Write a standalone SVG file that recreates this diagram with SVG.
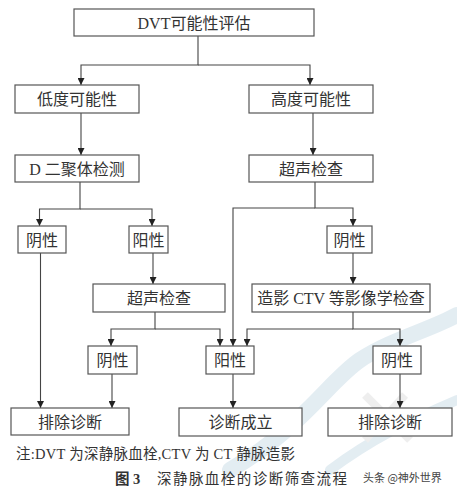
<svg xmlns="http://www.w3.org/2000/svg" width="457" height="493" viewBox="0 0 457 493">
<style>
.bx{fill:#fff;stroke:#555;stroke-width:1.2}
.t{font-family:"Liberation Serif","Noto Sans CJK SC",serif;font-size:16px;fill:#333;text-anchor:middle;dominant-baseline:central}
.c{fill:none;stroke:#444;stroke-width:1.1}
.note{font-family:"Liberation Serif","Noto Sans CJK SC",serif;font-size:14.5px;fill:#333}
.wm{fill:none;stroke:#dde9f0;stroke-linecap:round}
</style>
<defs>
<marker id="ar" viewBox="0 0 10 10" refX="10" refY="5" markerWidth="7" markerHeight="7" markerUnits="userSpaceOnUse" orient="auto">
<path d="M0,0 L10,5 L0,10 z" fill="#222"/>
</marker>
</defs>
<rect width="457" height="493" fill="#fff"/>
<g id="watermark" opacity="0.8">
<path class="wm" stroke-width="16" d="M230,470 C300,430 330,380 360,360 S430,330 457,315"/>
<path class="wm" stroke-width="10" d="M330,470 C370,440 410,420 457,400"/>
<path fill="none" stroke="#ebebeb" stroke-width="8" d="M365,395 L410,440 M405,395 L365,440"/>
</g>
<g id="connectors">
<path class="c" d="M198,36 V65 H81 V85" marker-end="url(#ar)"/>
<path class="c" d="M198,65 H310 V85" marker-end="url(#ar)"/>
<path class="c" d="M81,113 V155" marker-end="url(#ar)"/>
<path class="c" d="M313,113 V155" marker-end="url(#ar)"/>
<path class="c" d="M80,182 V209 H39.5 V226" marker-end="url(#ar)"/>
<path class="c" d="M80,209 H152 V226" marker-end="url(#ar)"/>
<path class="c" d="M40.5,253 V408" marker-end="url(#ar)"/>
<path class="c" d="M153,253 V284" marker-end="url(#ar)"/>
<path class="c" d="M315,182 V208 H353 V226" marker-end="url(#ar)"/>
<path class="c" d="M315,208 H233 V346" marker-end="url(#ar)"/>
<path class="c" d="M353,253 V284" marker-end="url(#ar)"/>
<path class="c" d="M353,312 V329 H400 V346" marker-end="url(#ar)"/>
<path class="c" d="M353,329 H247 V346" marker-end="url(#ar)"/>
<path class="c" d="M155,312 V329 H111 V346" marker-end="url(#ar)"/>
<path class="c" d="M155,329 H220 V346" marker-end="url(#ar)"/>
<path class="c" d="M112,374 V408" marker-end="url(#ar)"/>
<path class="c" d="M233,374 V408" marker-end="url(#ar)"/>
<path class="c" d="M400,374 V408" marker-end="url(#ar)"/>
</g>
<g id="n_dvt"><rect class="bx" x="74" y="9" width="240" height="27"/><text class="t" x="194" y="23">DVT可能性评估</text></g>
<g id="n_low"><rect class="bx" x="15" y="85" width="124" height="28"/><text class="t" x="77" y="99">低度可能性</text></g>
<g id="n_high"><rect class="bx" x="249" y="85" width="124" height="28"/><text class="t" x="311" y="99">高度可能性</text></g>
<g id="n_d2"><rect class="bx" x="15" y="155" width="124" height="27"/><text class="t" x="77" y="169">D 二聚体检测</text></g>
<g id="n_usR"><rect class="bx" x="249" y="155" width="124" height="27"/><text class="t" x="311" y="169">超声检查</text></g>
<g id="n_neg1"><rect class="bx" x="18" y="226" width="48" height="27"/><text class="t" x="42" y="240">阴性</text></g>
<g id="n_pos1"><rect class="bx" x="129" y="226" width="39" height="27"/><text class="t" x="148.5" y="240">阳性</text></g>
<g id="n_neg2"><rect class="bx" x="327" y="226" width="45" height="27"/><text class="t" x="349.5" y="240">阴性</text></g>
<g id="n_usL"><rect class="bx" x="93" y="284" width="132" height="28"/><text class="t" x="159" y="298">超声检查</text></g>
<g id="n_ctv"><rect class="bx" x="252" y="284" width="178" height="28"/><text class="t" x="341" y="298">造影 CTV 等影像学检查</text></g>
<g id="n_neg3"><rect class="bx" x="88" y="346" width="49" height="28"/><text class="t" x="112.5" y="360">阴性</text></g>
<g id="n_pos2"><rect class="bx" x="206" y="346" width="48" height="28"/><text class="t" x="230" y="360">阳性</text></g>
<g id="n_neg4"><rect class="bx" x="373" y="346" width="48" height="28"/><text class="t" x="397" y="360">阴性</text></g>
<g id="n_ex1"><rect class="bx" x="11" y="408" width="118" height="27"/><text class="t" x="70" y="422">排除诊断</text></g>
<g id="n_dx"><rect class="bx" x="179" y="408" width="123" height="28"/><text class="t" x="240.5" y="422">诊断成立</text></g>
<g id="n_ex2"><rect class="bx" x="328" y="408" width="124" height="28"/><text class="t" x="390" y="422">排除诊断</text></g>
<g id="notes">
<text class="note" x="16" y="459" textLength="279" lengthAdjust="spacing">注:DVT 为深静脉血栓,CTV 为 CT 静脉造影</text>
<text class="note" x="115" y="484" font-size="15.5px" font-weight="bold">图 3</text>
<text class="note" x="157" y="484" font-size="15.5px" textLength="190" lengthAdjust="spacing">深静脉血栓的诊断筛查流程</text>
<text x="363" y="482" font-family="'Noto Sans CJK SC',sans-serif" font-size="11px" fill="#444">头条 @神外世界</text>
</g>
</svg>
